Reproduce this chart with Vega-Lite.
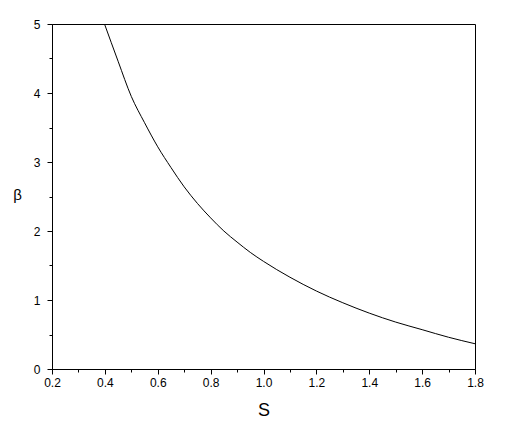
{
  "$schema": "https://vega.github.io/schema/vega-lite/v6.json",
  "width": 423,
  "height": 345,
  "autosize": {"type": "none"},
  "padding": {"left": 52, "top": 24, "right": 32, "bottom": 65},
  "background": "white",
  "config": {
    "view": {"stroke": "black", "strokeWidth": 1},
    "font": "Liberation Sans",
    "axis": {
      "grid": false,
      "domainColor": "black",
      "tickColor": "black",
      "labelColor": "black",
      "titleColor": "black",
      "labelFont": "Liberation Sans",
      "titleFont": "Liberation Sans",
      "labelFontSize": 12,
      "titleFontWeight": "normal"
    }
  },
  "data": {
    "values": [
      {"S": 0.3986, "beta": 5.0},
      {"S": 0.45, "beta": 4.46},
      {"S": 0.5, "beta": 3.95},
      {"S": 0.55, "beta": 3.57},
      {"S": 0.6, "beta": 3.22},
      {"S": 0.65, "beta": 2.92},
      {"S": 0.7, "beta": 2.64},
      {"S": 0.75, "beta": 2.40},
      {"S": 0.8, "beta": 2.19},
      {"S": 0.85, "beta": 2.00},
      {"S": 0.9, "beta": 1.84},
      {"S": 0.95, "beta": 1.69},
      {"S": 1.0, "beta": 1.56},
      {"S": 1.1, "beta": 1.33},
      {"S": 1.2, "beta": 1.13},
      {"S": 1.3, "beta": 0.96},
      {"S": 1.4, "beta": 0.81},
      {"S": 1.5, "beta": 0.68},
      {"S": 1.6, "beta": 0.57},
      {"S": 1.7, "beta": 0.46},
      {"S": 1.8, "beta": 0.366}
    ]
  },
  "mark": {"type": "line", "color": "black", "strokeWidth": 1, "interpolate": "monotone", "clip": true},
  "encoding": {
    "x": {
      "field": "S",
      "type": "quantitative",
      "scale": {"domain": [0.2, 1.8], "nice": false, "zero": false},
      "axis": {
        "title": "S",
        "titleFontSize": 18,
        "values": [0.2, 0.3, 0.4, 0.5, 0.6, 0.7, 0.8, 0.9, 1.0, 1.1, 1.2, 1.3, 1.4, 1.5, 1.6, 1.7, 1.8],
        "labelExpr": "round(datum.value*10) % 2 == 1 ? '' : format(datum.value, '.1f')",
        "tickSize": {"condition": {"test": "round(datum.value*10) % 2 == 1", "value": 3}, "value": 5},
        "labelPadding": 3,
        "titleBaseline": "middle",
        "titleY": 41,
        "labelFlush": false
      }
    },
    "y": {
      "field": "beta",
      "type": "quantitative",
      "scale": {"domain": [0, 5], "nice": false},
      "axis": {
        "title": "β",
        "titleFontSize": 15,
        "titleAngle": 0,
        "titleAlign": "center",
        "titleBaseline": "middle",
        "titleX": -35,
        "titleY": 170,
        "values": [0, 0.5, 1, 1.5, 2, 2.5, 3, 3.5, 4, 4.5, 5],
        "labelExpr": "datum.value % 1 ? '' : format(datum.value, 'd')",
        "tickSize": {"condition": {"test": "datum.value % 1 != 0", "value": 3}, "value": 5},
        "labelPadding": 7,
        "labelFlush": false
      }
    }
  }
}
